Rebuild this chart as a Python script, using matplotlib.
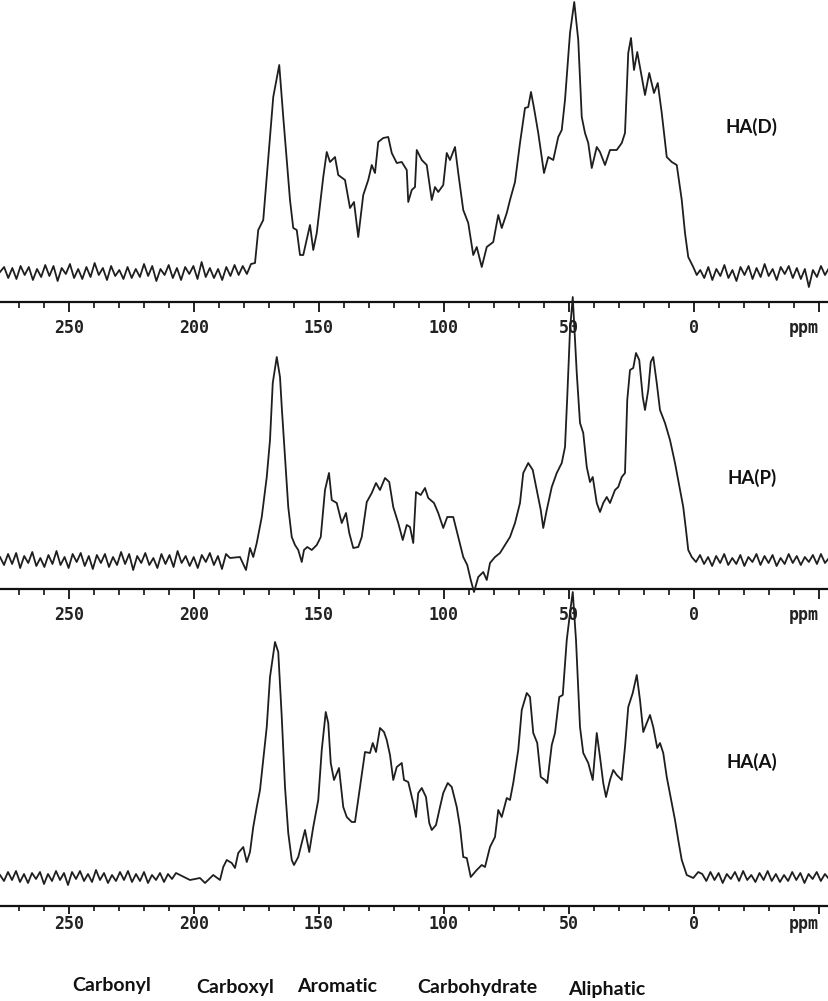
import numpy as np
import matplotlib
matplotlib.use("Agg")
import matplotlib.pyplot as plt
from matplotlib.ticker import MultipleLocator

# ---------------- data (intensity in arbitrary units above baseline) ----------------
# HA(D)
noise_D_left = [0, 5, -6, 4, -7, 6, -3, 5, -8, 3, -5, 7, -4, 6, -9, 4, -2, 8, -6, 3,
                -7, 5, -5, 9, -3, 4, -8, 6, -4, 2, -7, 5, -6, 3, -5, 8, -4, 6, -9, 3,
                -3, 7, -6, 4, -8, 5, -2, 6, -7, 10, -5, 4, -6, 3, -8, 5, -4, 7, -3, 6, -2, 8]
noise_D_right = [2, -6, 5, -8, 3, -4, 7, -6, 2, -9, 5, -3, 6, -7, 4, -5, 8, -4, 3, -8,
                 5, -2, 6, -6, 4, -7, 3, -15, 2, -5, 6, -3, 4]
ppm_D = [175.6, 174.3, 172.3, 168.3, 165.9, 164.3, 162.9, 161.6, 160.3, 158.9, 157.6, 156.3,
         153.6, 152.3, 150.9, 149.6, 148.3, 146.9, 145.6, 143.6, 142.3, 139.6, 137.6, 136.0,
         134.3, 132.3, 130.3, 128.9, 127.6, 126.3, 124.3, 122.3, 120.9, 118.9, 116.9, 114.9,
         114.3, 112.9, 111.6, 110.9, 108.9, 106.9, 104.9, 103.6, 102.3, 100.3, 98.9, 97.6,
         95.6, 94.3, 92.3, 90.3, 88.3, 86.9, 84.9, 82.9, 80.3, 78.3, 76.9, 74.9, 73.6, 71.6,
         69.6, 67.6, 66.3, 65.2, 64.0, 62.3, 60.9, 60.0, 58.3, 56.3, 54.3, 52.9, 51.6, 49.6,
         47.9, 46.3, 44.9, 43.6, 42.3, 40.9, 38.9, 37.6, 35.6, 33.6, 30.9, 28.9, 27.6, 26.3,
         25.2, 24.0, 22.7, 20.9, 19.6, 17.9, 16.0, 14.5, 12.9, 10.9, 8.9, 6.9, 4.9, 3.6, 2.3,
         0.3, -1.1]
int_D = [9, 42, 52, 175, 207, 155, 112, 72, 44, 42, 17, 17,
         47, 22, 39, 67, 95, 120, 110, 115, 97, 92, 64, 70,
         35, 77, 92, 107, 99, 130, 134, 135, 119, 109, 110, 102,
         70, 82, 85, 122, 112, 107, 72, 85, 80, 87, 119, 112,
         125, 99, 62, 49, 17, 25, 5, 25, 30, 57, 44, 59, 72, 90,
         129, 164, 165, 180, 164, 139, 115, 99, 115, 112, 135, 142, 172, 239,
         270, 232, 155, 139, 129, 104, 125, 120, 107, 122, 122, 129, 139, 219,
         234, 202, 220, 195, 177, 199, 179, 189, 159, 115, 110, 107, 72, 39, 15,
         5, -3]

# HA(P)
noise_P_left = [3, -5, 6, -4, 7, -8, 4, -3, 8, -6, 2, -7, 5, -4, 9, -5, 3, -8, 6, -2,
                7, -6, 4, -9, 5, -3, 6, -7, 3, -5, 8, -4, 6, -10, 4, -3, 7, -5, 2, -8,
                6, -4, 5, -7, 9, -3, 4, -6, 3, -8, 5, -2, 7, -5, 4, -9, 6]
noise_P_right = [-2, 5, -4, 3, -6, 4, -3, 6, -5, 2, -4, 5, -6, 3, -2, 6, -5, 4, -3, 5,
                 -6, 2, -4, 6, -3, 4, -5, 3, -2, 5, -4, 6, -3, 2]
ppm_P = [185.6, 181.6, 179.2, 177.6, 176.3, 174.9, 172.9, 170.9, 169.6, 168.5, 166.9, 165.6,
         164.9, 163.6, 162.3, 160.9, 159.6, 158.3, 156.9, 156.0, 154.7, 152.9, 150.9, 149.3,
         147.6, 146.0, 144.9, 142.9, 140.9, 139.2, 137.9, 136.3, 134.3, 132.9, 130.9, 128.9,
         127.2, 125.6, 123.6, 121.9, 120.3, 118.3, 116.5, 114.9, 113.6, 112.3, 111.2, 109.3,
         107.6, 106.3, 104.0, 102.3, 100.3, 98.7, 96.3, 94.3, 92.3, 90.7, 89.3, 88.0, 86.3,
         84.3, 82.9, 81.6, 79.6, 77.6, 75.6, 73.6, 71.6, 69.6, 68.3, 66.3, 64.5, 62.9, 61.3,
         60.3, 58.9, 56.9, 54.9, 52.9, 51.6, 50.7, 49.6, 48.5, 46.9, 45.6, 44.3, 42.9, 41.6,
         40.5, 38.9, 37.6, 36.3, 34.9, 33.6, 31.6, 30.3, 28.9, 27.6, 26.7, 25.6, 24.3, 23.2,
         21.9, 20.5, 19.6, 18.3, 17.3, 16.3, 14.9, 13.6, 11.6, 9.6, 7.6, 5.6, 4.3, 3.2, 2.3, 0.9]
int_P = [2, 3, -10, 12, 3, 17, 43, 83, 120, 177, 203, 183,
         153, 103, 53, 23, 15, 10, -2, 10, 13, 10, 15, 23,
         70, 87, 60, 57, 37, 47, 27, 12, 13, 23, 58, 67,
         77, 70, 82, 78, 53, 37, 20, 35, 33, 17, 68, 65,
         72, 62, 57, 47, 32, 43, 43, 23, 3, -5, -20, -32, -17,
         -12, -20, -3, 3, 7, 15, 23, 37, 57, 87, 97, 90, 70, 50,
         32, 50, 73, 87, 97, 113, 163, 230, 263, 187, 137, 127, 93, 78,
         83, 57, 48, 57, 63, 57, 70, 73, 83, 87, 160, 190, 192, 207,
         200, 163, 150, 170, 198, 203, 177, 150, 137, 120, 97, 70, 53, 30, 10, 3]

# HA(A)
noise_A_left = [2, -4, 5, -3, 6, -5, 3, -6, 4, -2, 5, -7, 3, -4, 6, -3, 4, -8, 5, -2,
                6, -4, 3, -5, 7, -3, 4, -6, 2, -4, 5, -3, 6, -5, 3, -4, 5, -6, 2, -3,
                4, -5, 3, -2, 4]
noise_A_right = [3, -4, 5, -3, 4, -6, 3, -2, 5, -4, 6, -3, 2, -5, 4, -3, 6, -4, 3, -5,
                 2, -4, 5, -3, 4, -6, 3, -2, 5, -4, 3, -2]
ppm_A = [205.6, 201.6, 197.6, 195.6, 192.3, 189.6, 188.3, 186.9, 184.9, 183.6, 182.3, 180.3,
         178.9, 177.6, 176.3, 174.9, 173.6, 172.3, 170.9, 169.6, 167.6, 166.3, 164.9, 163.6,
         162.3, 160.9, 160.0, 158.3, 156.9, 155.6, 153.9, 152.3, 150.3, 148.9, 147.3, 146.3,
         145.3, 144.0, 142.0, 140.3, 138.9, 136.9, 135.6, 133.6, 131.6, 129.6, 128.5, 127.2,
         125.6, 124.0, 122.9, 121.6, 120.3, 118.9, 116.9, 116.0, 114.3, 112.3, 111.2, 110.3,
         108.9, 107.2, 105.9, 104.9, 103.2, 101.6, 100.3, 98.5, 96.9, 94.9, 93.6, 92.3, 90.9,
         89.3, 86.9, 84.9, 83.6, 81.6, 79.6, 78.3, 76.9, 74.9, 73.6, 72.3, 70.3, 68.9, 66.9,
         65.6, 64.3, 62.7, 61.3, 59.6, 58.7, 56.9, 55.6, 53.9, 52.5, 50.9, 49.3, 48.5, 47.2,
         45.6, 44.3, 42.3, 40.5, 38.9, 37.6, 36.3, 35.2, 33.6, 32.3, 30.9, 28.9, 27.6, 26.3,
         24.5, 22.9, 21.6, 20.3, 18.9, 17.6, 16.3, 14.7, 13.6, 12.3, 10.9, 8.9, 7.6, 6.3, 4.9,
         2.9, 0.3, -1.7]
int_A = [2, -3, -1, -6, 2, -3, 10, 17, 14, 9, 24, 30,
         15, 25, 50, 70, 87, 117, 150, 200, 235, 225, 160, 90,
         44, 17, 12, 20, 34, 47, 25, 50, 77, 127, 165, 154,
         114, 97, 109, 70, 60, 55, 55, 90, 125, 124, 134, 125,
         149, 145, 137, 122, 97, 110, 114, 97, 95, 74, 60, 84,
         89, 80, 54, 47, 52, 70, 84, 94, 90, 70, 50, 20, 19,
         0, 7, 12, 10, 30, 40, 67, 60, 79, 77, 94, 127, 167, 184,
         180, 144, 134, 100, 97, 94, 132, 144, 180, 182, 237, 270, 285, 237,
         150, 124, 114, 97, 144, 120, 94, 80, 97, 107, 102, 97, 130, 170,
         184, 202, 177, 145, 154, 162, 150, 129, 134, 124, 100, 74, 57, 37, 17,
         2, -1, 5]

sample_labels = ["HA(D)", "HA(P)", "HA(A)"]
tick_values = [250, 200, 150, 100, 50, 0, -50]
tick_labels = ["250", "200", "150", "100", "50", "0", "ppm"]
region_labels = ["Carbonyl", "Carboxyl", "Aromatic", "Carbohydrate", "Aliphatic"]

# ---------------- layout ----------------
W, H = 829, 1001
fig = plt.figure(figsize=(W / 100, H / 100), dpi=100)
X_LEFT, X_RIGHT = 277.6, -54.0

spectra = [
    (noise_D_left, (277.6, 177.2), ppm_D, int_D, noise_D_right, (-2.5, -54.0)),
    (noise_P_left, (277.6, 187.2), ppm_P, int_P, noise_P_right, (-0.8, -54.0)),
    (noise_A_left, (277.6, 207.2), ppm_A, int_A, noise_A_right, (-3.3, -54.0)),
]
# axis line y, panel top y, baseline y (pixels from top), tick lengths, pad
layout = [
    (302, 0, 272, 7.2, 4.3, 5.0),
    (589, 302, 560, 7.2, 4.3, 5.0),
    (906, 589, 877, 5.8, 3.6, 0.8),
]
label_pos = [(752, 127), (752, 478), (752, 762)]

line_color = "#1e1e1e"
for i, (spec, lay) in enumerate(zip(spectra, layout)):
    nl, (l0, l1), ppm, inten, nr, (r0, r1) = spec
    axis_y, top_y, base_y, maj_len, min_len, pad = lay
    ax = fig.add_axes([0, (H - axis_y) / H, 1, (axis_y - top_y) / H])
    ax.patch.set_alpha(0)
    x = np.concatenate([np.linspace(l0, l1, len(nl)), ppm, np.linspace(r0, r1, len(nr))])
    y = np.concatenate([nl, inten, nr])
    off = axis_y - base_y
    ax.set_xlim(X_LEFT, X_RIGHT)
    ax.set_ylim(-off, axis_y - top_y - off)
    ax.plot(x, y, color=line_color, lw=1.3, clip_on=False, zorder=3)
    for s in ("top", "left", "right"):
        ax.spines[s].set_visible(False)
    ax.spines["bottom"].set_linewidth(1.6)
    ax.spines["bottom"].set_color("#111111")
    ax.set_yticks([])
    ax.set_xticks(tick_values)
    ax.set_xticklabels(tick_labels)
    ax.xaxis.set_minor_locator(MultipleLocator(10))
    ax.tick_params(axis="x", which="major", direction="out", length=maj_len, width=1.3,
                   color="#111111", pad=pad)
    ax.tick_params(axis="x", which="minor", direction="out", length=min_len, width=1.2,
                   color="#111111")
    for lab in ax.get_xticklabels():
        lab.set_fontfamily("DejaVu Sans Mono")
        lab.set_fontweight("bold")
        lab.set_fontsize(12)
        lab.set_color("#222222")
    ax.get_xticklabels()[-1].set_horizontalalignment("right")
    lx, ly = label_pos[i]
    fig.text(lx / W, 1 - ly / H, sample_labels[i], ha="center", va="center",
             fontsize=13.5, fontweight="bold", family=["Lato", "DejaVu Sans"], color="#111111")

region_pos = [(112, 985), (235, 987), (337, 987), (477, 988), (607, 990)]
for name, (px, py) in zip(region_labels, region_pos):
    fig.text(px / W, 1 - py / H, name, ha="center", va="center", fontsize=14,
             fontweight="bold", family=["Lato", "DejaVu Sans"], color="#111111")

fig.savefig("out.png", dpi=100)
